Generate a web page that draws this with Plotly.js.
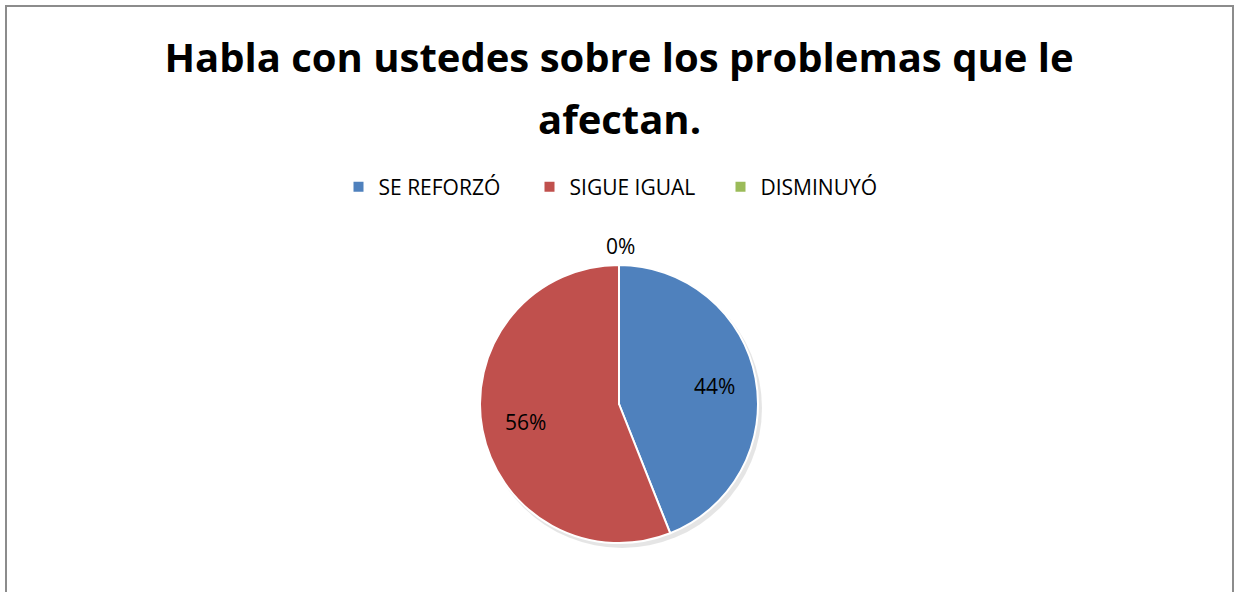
<!DOCTYPE html>
<html>
<head>
<meta charset="utf-8">
<script src="https://cdn.plot.ly/plotly-3.0.1.min.js"></script>
<style>html,body{margin:0;padding:0;background:#fff;}#chart{width:1238px;height:592px;}</style>
</head>
<body>
<div id="chart"></div>
<script>
const titleLine1 = "Habla con ustedes sobre los problemas que le";
const titleLine2 = "afectan.";
const categories = ["SE REFORZÓ", "SIGUE IGUAL", "DISMINUYÓ"];
const values = [44, 56, 0];
const colors = ["#4F81BD", "#C0504D", "#9BBB59"];

const W = 1238, H = 592;
const FONT = "Open Sans, sans-serif";
// pie geometry (pixels)
const cx = 620, cy = 404, r = 139;

const trace = {
  type: "pie",
  labels: categories,
  values: values,
  sort: false,
  direction: "clockwise",
  rotation: 0,
  marker: { colors: colors, line: { color: "#ffffff", width: 2 } },
  textinfo: "none",
  automargin: false,
  hoverinfo: "label+percent",
  domain: { x: [0, 1], y: [1 - (cy + r) / H, 1 - (cy - r) / H] }
};

// percentage labels placed from the data (mid-angle of each slice)
const total = values.reduce((a, b) => a + b, 0);
const labelAnns = [];
let cum = 0;
values.forEach((v, i) => {
  const frac = v / total;
  const mid = (cum + frac / 2) * 2 * Math.PI;
  cum += frac;
  const d = frac > 0.05 ? 0.69 * r : r + 19;
  const px = cx + d * Math.sin(mid);
  const py = cy - d * Math.cos(mid);
  labelAnns.push({
    text: Math.round(frac * 100) + "%",
    xref: "paper", yref: "paper",
    x: px / W, y: 1 - py / H,
    xanchor: "center", yanchor: "middle",
    showarrow: false,
    font: { family: FONT, size: 21, color: "#000000" }
  });
});

const layout = {
  width: W, height: H,
  margin: { l: 0, r: 0, t: 0, b: 0 },
  paper_bgcolor: "#ffffff",
  font: { family: FONT, color: "#000000" },
  title: {
    text: "<b>" + titleLine1 + "</b>",
    x: 0.5, xanchor: "center",
    y: 1 - 58 / H, yanchor: "middle",
    font: { family: FONT, size: 40, color: "#000000" }
  },
  annotations: [{
    text: "<b>" + titleLine2 + "</b>",
    xref: "paper", yref: "paper",
    x: 0.5, y: 1 - 118 / H, xanchor: "center", yanchor: "middle",
    showarrow: false,
    font: { family: FONT, size: 40, color: "#000000" }
  }].concat(labelAnns),
  showlegend: true,
  legend: {
    orientation: "h",
    x: 0.5 + 6 / W, xanchor: "center",
    y: 1 - 187 / H, yanchor: "middle",
    font: { family: FONT, size: 21, color: "#000000" },
    itemwidth: 30,
    entrywidth: 146,
    traceorder: "normal"
  },
  shapes: [{
    type: "rect", xref: "paper", yref: "paper",
    x0: 6 / W, x1: 1233 / W, y0: -0.2, y1: 1 - 6 / H,
    line: { color: "#8c8c8c", width: 2 },
    fillcolor: "rgba(0,0,0,0)", layer: "below"
  }, {
    type: "circle", xref: "paper", yref: "paper",
    x0: (cx - r + 1) / W, x1: (cx + r + 3) / W,
    y0: 1 - (cy + r + 5) / H, y1: 1 - (cy - r + 3) / H,
    line: { width: 0 },
    fillcolor: "rgba(0,0,0,0.10)", layer: "below"
  }]
};

Plotly.newPlot("chart", [trace], layout, { displayModeBar: false, staticPlot: true });
</script>
</body>
</html>
